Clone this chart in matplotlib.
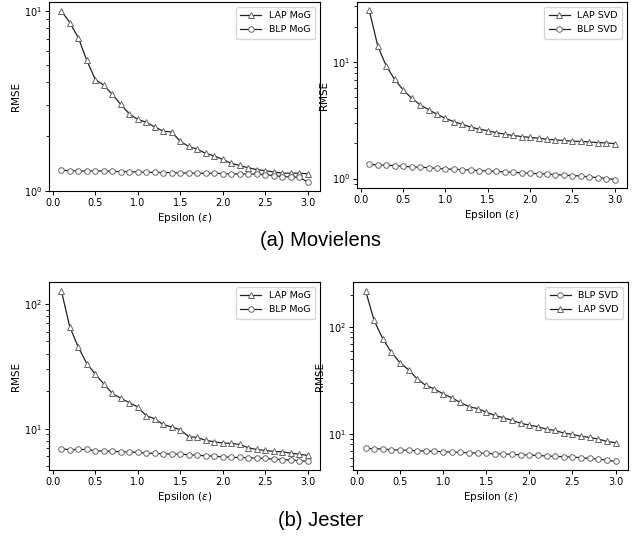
import matplotlib
matplotlib.use('Agg')
import matplotlib.pyplot as plt
import numpy as np

eps = [round(0.1 * i, 1) for i in range(1, 31)]

# Movielens
ml_lap_mog = [10.0, 8.6, 7.08, 5.3, 4.15, 3.86, 3.43, 3.02, 2.67, 2.49,
              2.40, 2.26, 2.14, 2.12, 1.88, 1.76, 1.70, 1.61, 1.56, 1.49,
              1.42, 1.38, 1.34, 1.31, 1.29, 1.27, 1.25, 1.25, 1.25, 1.24]
ml_blp_mog = [1.30, 1.29, 1.286, 1.286, 1.286, 1.286, 1.28, 1.275, 1.275, 1.27,
              1.264, 1.264, 1.259, 1.259, 1.254, 1.254, 1.248, 1.248, 1.248, 1.243,
              1.238, 1.238, 1.238, 1.232, 1.227, 1.211, 1.196, 1.191, 1.186, 1.117]
ml_lap_svd = [27.6, 13.7, 9.23, 7.08, 5.76, 4.89, 4.28, 3.90, 3.55, 3.28,
              3.07, 2.91, 2.76, 2.65, 2.57, 2.47, 2.40, 2.34, 2.29, 2.25,
              2.22, 2.17, 2.14, 2.12, 2.09, 2.08, 2.06, 2.03, 2.02, 1.99]
ml_blp_svd = [1.32, 1.31, 1.30, 1.29, 1.27, 1.26, 1.25, 1.24, 1.22, 1.21,
              1.20, 1.19, 1.18, 1.17, 1.16, 1.15, 1.14, 1.13, 1.12, 1.11,
              1.10, 1.09, 1.08, 1.07, 1.06, 1.05, 1.03, 1.02, 1.00, 0.98]

# Jester
js_lap_mog = [128, 65.3, 45.0, 33.2, 27.4, 22.8, 19.2, 17.5, 16.2, 14.9,
              12.7, 12.0, 10.8, 10.3, 9.82, 8.61, 8.51, 8.05, 7.86, 7.66,
              7.62, 7.48, 7.03, 6.81, 6.69, 6.57, 6.53, 6.37, 6.25, 6.10]
js_blp_mog = [6.90, 6.78, 6.81, 6.81, 6.65, 6.61, 6.57, 6.53, 6.49, 6.45,
              6.37, 6.33, 6.29, 6.25, 6.25, 6.17, 6.13, 6.06, 6.02, 5.95,
              5.88, 5.88, 5.84, 5.80, 5.77, 5.69, 5.66, 5.59, 5.55, 5.46]
js_lap_svd = [219, 115, 77.8, 58.0, 46.4, 39.8, 32.8, 28.4, 26.4, 23.7,
              21.8, 19.7, 18.0, 17.3, 16.0, 14.9, 14.2, 13.4, 12.6, 12.1,
              11.7, 11.1, 10.8, 10.2, 9.93, 9.50, 9.30, 8.98, 8.53, 8.29]
js_blp_svd = [7.34, 7.29, 7.23, 7.12, 7.08, 7.03, 6.98, 6.93, 6.88, 6.83,
              6.78, 6.73, 6.68, 6.64, 6.59, 6.54, 6.49, 6.45, 6.40, 6.36,
              6.31, 6.22, 6.18, 6.13, 6.09, 6.00, 5.91, 5.83, 5.70, 5.54]

W, H = 642, 540
fig = plt.figure(figsize=(W / 100, H / 100), dpi=100)


def box(l, r, t, b):
    return [l / W, 1 - b / H, (r - l) / W, (b - t) / H]


def panel(rect, series):
    ax = fig.add_axes(rect)
    for label, vals, mk in series:
        ax.plot(eps, vals, color='#222222', lw=0.9, marker=mk, ms=4,
                mfc='white', mec='#666666', mew=0.7, label=label)
    ax.set_yscale('log')
    ax.set_xticks([0.0, 0.5, 1.0, 1.5, 2.0, 2.5, 3.0])
    ax.tick_params(labelsize=7, length=3, width=0.7, pad=2)
    ax.set_xlabel(r'Epsilon ($\varepsilon$)', fontsize=7.5, labelpad=2)
    ax.set_ylabel('RMSE', fontsize=7.5, labelpad=2)
    for s in ax.spines.values():
        s.set_linewidth(0.8)
    ax.legend(loc='upper right', fontsize=6.8, handlelength=2.2,
              borderpad=0.5, labelspacing=0.5)
    return ax


a1 = panel(box(49, 320, 2, 191), [('LAP MoG', ml_lap_mog, '^'), ('BLP MoG', ml_blp_mog, 'o')])
a1.set_ylim(0.995, 11.2)
panel(box(357, 627, 2, 188), [('LAP SVD', ml_lap_svd, '^'), ('BLP SVD', ml_blp_svd, 'o')])
panel(box(49, 320, 282, 470), [('LAP MoG', js_lap_mog, '^'), ('BLP MoG', js_blp_mog, 'o')])
panel(box(353, 628, 282, 470), [('BLP SVD', js_blp_svd, 'o'), ('LAP SVD', js_lap_svd, '^')])

fig.text(0.5, 1 - 240 / H, '(a) Movielens', ha='center', va='center',
         fontsize=14.5, family='Liberation Sans')
fig.text(0.5, 1 - 521 / H, '(b) Jester', ha='center', va='center',
         fontsize=14.5, family='Liberation Sans')

fig.savefig('out.png', dpi=100)
